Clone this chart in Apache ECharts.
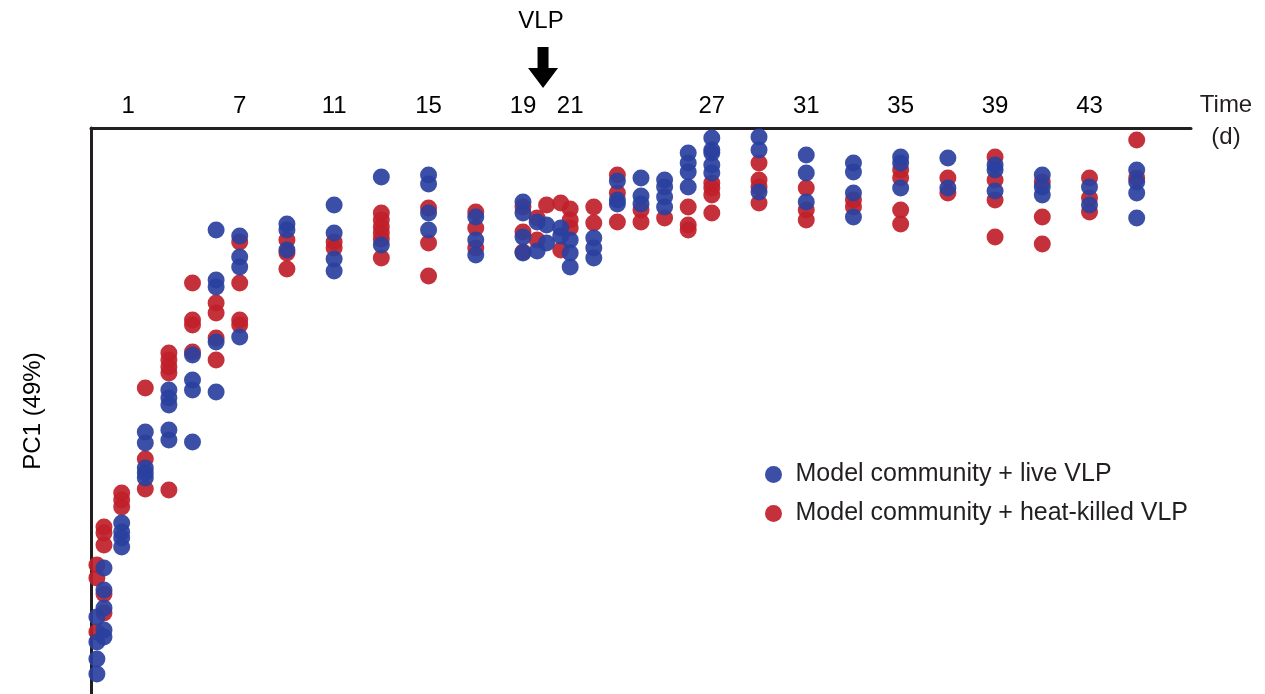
<!DOCTYPE html>
<html>
<head>
<meta charset="utf-8">
<title>PC1 over time</title>
<script src="https://cdn.jsdelivr.net/npm/echarts@6/dist/echarts.min.js"></script>
<style>
  html, body { margin: 0; padding: 0; background: #ffffff; }
  #chart { width: 1265px; height: 694px; }
</style>
</head>
<body>
<div id="chart"></div>
<script>
// Sampling days shown along the time axis
const tickDays = [1, 7, 11, 15, 19, 21, 27, 31, 35, 39, 43];

// Day on which VLPs were added
const vlpDay = 19.85;

// PC1 scores per sample: [day, PC1]
const liveVLP = [
  [0.95, -3.89], [0.95, -4.14], [0.95, -4.31], [0.95, -4.46],
  [1.25, -3.40], [1.25, -3.62], [1.25, -3.80], [1.25, -4.02], [1.25, -4.09],
  [2, -2.95], [2, -3.04], [2, -3.10], [2, -3.19],
  [3, -2.04], [3, -2.15], [3, -2.40], [3, -2.45], [3, -2.50],
  [4, -1.62], [4, -1.70], [4, -1.77], [4, -2.02], [4, -2.12],
  [5, -1.27], [5, -1.52], [5, -1.62], [5, -2.14],
  [6, -0.02], [6, -0.52], [6, -0.59], [6, -1.14], [6, -1.64],
  [7, -0.08], [7, -0.29], [7, -0.39], [7, -1.09],
  [9, 0.04], [9, -0.02], [9, -0.22],
  [11, 0.23], [11, -0.05], [11, -0.31], [11, -0.43],
  [13, 0.51], [13, -0.17],
  [15, 0.53], [15, 0.44], [15, 0.15], [15, -0.02],
  [17, 0.11], [17, -0.12], [17, -0.27],
  [19, 0.26], [19, 0.15], [19, -0.09], [19, -0.25],
  [19.6, 0.06], [19.6, -0.23],
  [20, 0.03], [20, -0.15],
  [20.6, 0.00], [20.6, -0.08],
  [21, -0.12], [21, -0.25], [21, -0.39],
  [22, -0.10], [22, -0.20], [22, -0.30],
  [23, 0.47], [23, 0.28], [23, 0.24],
  [24, 0.50], [24, 0.32], [24, 0.24],
  [25, 0.48], [25, 0.41], [25, 0.31], [25, 0.21],
  [26, 0.75], [26, 0.65], [26, 0.56], [26, 0.41],
  [27, 0.90], [27, 0.78], [27, 0.75], [27, 0.63], [27, 0.55],
  [29, 0.91], [29, 0.78], [29, 0.36],
  [31, 0.73], [31, 0.55], [31, 0.26],
  [33, 0.65], [33, 0.56], [33, 0.35], [33, 0.11],
  [35, 0.71], [35, 0.65], [35, 0.40],
  [37, 0.70], [37, 0.40],
  [39, 0.63], [39, 0.58], [39, 0.37],
  [41, 0.53], [41, 0.41], [41, 0.33],
  [43, 0.41], [43, 0.23],
  [45, 0.58], [45, 0.46], [45, 0.35], [45, 0.10]
];

const heatKilledVLP = [
  [0.95, -3.37], [0.95, -3.50], [0.95, -4.04],
  [1.25, -2.99], [1.25, -3.05], [1.25, -3.17], [1.25, -3.66], [1.25, -3.85],
  [2, -2.65], [2, -2.72], [2, -2.79],
  [3, -1.60], [3, -2.31], [3, -2.61],
  [4, -1.25], [4, -1.32], [4, -1.39], [4, -1.45], [4, -2.62],
  [5, -0.55], [5, -0.92], [5, -0.97], [5, -1.24],
  [6, -0.75], [6, -0.85], [6, -1.10], [6, -1.32],
  [7, -0.14], [7, -0.55], [7, -0.92], [7, -0.97],
  [9, -0.12], [9, -0.25], [9, -0.41],
  [11, -0.14], [11, -0.20],
  [13, 0.15], [13, 0.08], [13, 0.01], [13, -0.05], [13, -0.11], [13, -0.30],
  [15, 0.20], [15, -0.15], [15, -0.48],
  [17, 0.16], [17, 0.00], [17, -0.20],
  [19, 0.21], [19, -0.04], [19, -0.24],
  [19.6, 0.10], [19.6, -0.12],
  [20, 0.23],
  [20.6, 0.25], [20.6, -0.22],
  [21, 0.19], [21, 0.08], [21, 0.00],
  [22, 0.21], [22, 0.05],
  [23, 0.53], [23, 0.35], [23, 0.06],
  [24, 0.18], [24, 0.06],
  [25, 0.10],
  [26, 0.21], [26, 0.03], [26, -0.02],
  [27, 0.45], [27, 0.40], [27, 0.33], [27, 0.15],
  [29, 0.65], [29, 0.48], [29, 0.41], [29, 0.25],
  [31, 0.40], [31, 0.18], [31, 0.08],
  [33, 0.28], [33, 0.21],
  [35, 0.58], [35, 0.50], [35, 0.18], [35, 0.04],
  [37, 0.50], [37, 0.35],
  [39, 0.71], [39, 0.48], [39, 0.28], [39, -0.09],
  [41, 0.46], [41, 0.11], [41, -0.16],
  [43, 0.50], [43, 0.30], [43, 0.16],
  [45, 0.88], [45, 0.50]
];

const liveName = 'Model community + live VLP';
const killedName = 'Model community + heat-killed VLP';

const FONT = '"Liberation Sans", Arial, Helvetica, sans-serif';
const INK = '#231f20';
const BLUE = '#2a409e';
const RED = '#c0202a';

const chart = echarts.init(document.getElementById('chart'), null, { renderer: 'canvas' });

chart.setOption({
  backgroundColor: '#ffffff',
  animation: false,
  textStyle: { fontFamily: FONT, color: INK },
  grid: { left: 91, top: 128, width: 1100, height: 566, containLabel: false },
  legend: {
    orient: 'vertical',
    left: 765,
    top: 462,
    padding: 0,
    itemWidth: 34,
    itemHeight: 17,
    itemGap: 14,
    icon: 'circle',
    data: [liveName, killedName],
    textStyle: { fontFamily: FONT, fontSize: 25, color: INK, lineHeight: 25 }
  },
  xAxis: {
    type: 'value',
    position: 'top',
    min: 0.7,
    max: 47.3,
    // the trailing spacer line lifts the two-line unit label above the axis centre
    name: '{t|Time}\n{t|(d)}\n{s| }',
    nameLocation: 'end',
    nameGap: 35,
    nameTextStyle: {
      fontFamily: FONT, fontSize: 24, color: INK, align: 'center', verticalAlign: 'middle',
      rich: {
        t: { fontFamily: FONT, fontSize: 24, color: INK, lineHeight: 32, align: 'center' },
        s: { fontSize: 10, lineHeight: 14 }
      }
    },
    axisLine: { show: true, onZero: false, lineStyle: { color: INK, width: 3 } },
    axisTick: { show: false },
    splitLine: { show: false },
    axisLabel: {
      customValues: tickDays,
      margin: 10,
      fontFamily: FONT,
      fontSize: 24,
      color: '#000000',
      formatter: v => (v === tickDays[0] ? '{first|' + v + '}' : String(v)),
      rich: { first: { fontFamily: FONT, fontSize: 24, color: '#000000', padding: [0, 0, 0, 60] } }
    }
  },
  yAxis: {
    type: 'value',
    min: -4.66,
    max: 1,
    name: 'PC1 (49%)',
    nameLocation: 'middle',
    nameGap: 46,
    nameTextStyle: { fontFamily: FONT, fontSize: 24, color: '#000000' },
    axisLine: { show: true, onZero: false, lineStyle: { color: INK, width: 3 } },
    axisTick: { show: false },
    axisLabel: { show: false },
    splitLine: { show: false }
  },
  series: [
    {
      name: killedName,
      type: 'scatter',
      data: heatKilledVLP,
      symbol: 'circle',
      symbolSize: 17,
      clip: false,
      itemStyle: { color: RED, opacity: 0.92 }
    },
    {
      name: liveName,
      type: 'scatter',
      data: liveVLP,
      symbol: 'circle',
      symbolSize: 17,
      clip: false,
      itemStyle: { color: BLUE, opacity: 0.92 }
    }
  ]
});

// Arrow and caption marking the VLP addition, placed through the x scale
const arrowX = chart.convertToPixel({ xAxisIndex: 0 }, vlpDay);
const axisTop = chart.convertToPixel({ yAxisIndex: 0 }, 1);
chart.setOption({
  graphic: [
    {
      type: 'text',
      x: arrowX - 2,
      y: axisTop - 107,
      style: {
        text: 'VLP', font: '24px ' + FONT, fill: '#000000',
        align: 'center', verticalAlign: 'middle'
      }
    },
    {
      type: 'polygon',
      shape: {
        points: [
          [arrowX - 5.5, axisTop - 81], [arrowX + 5.5, axisTop - 81],
          [arrowX + 5.5, axisTop - 60], [arrowX + 15, axisTop - 60],
          [arrowX, axisTop - 40], [arrowX - 15, axisTop - 60],
          [arrowX - 5.5, axisTop - 60]
        ]
      },
      style: { fill: '#000000' }
    }
  ]
});
</script>
</body>
</html>
